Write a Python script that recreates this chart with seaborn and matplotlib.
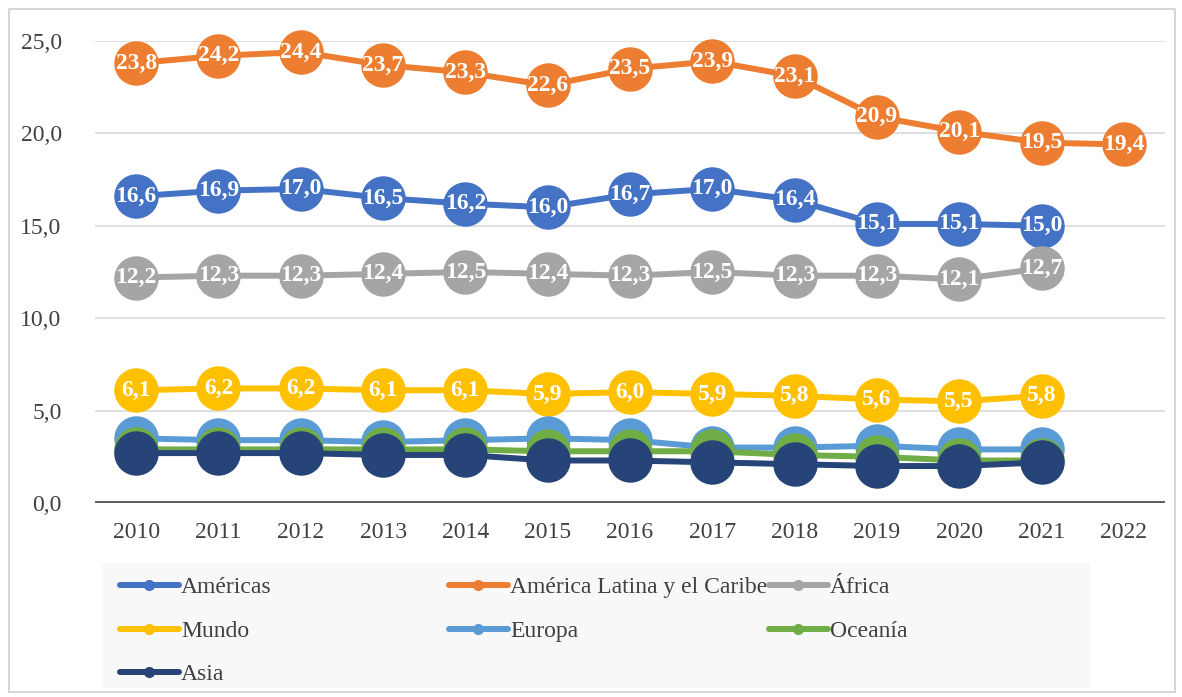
import pandas as pd
import numpy as np
import seaborn as sns
import matplotlib.pyplot as plt
from matplotlib.lines import Line2D
from matplotlib.patches import Rectangle

# Data
years = [2010, 2011, 2012, 2013, 2014, 2015, 2016, 2017, 2018, 2019, 2020, 2021, 2022]
americas = [16.6, 16.9, 17.0, 16.5, 16.2, 16.0, 16.7, 17.0, 16.4, 15.1, 15.1, 15.0, np.nan]
latam = [23.8, 24.2, 24.4, 23.7, 23.3, 22.6, 23.5, 23.9, 23.1, 20.9, 20.1, 19.5, 19.4]
africa = [12.2, 12.3, 12.3, 12.4, 12.5, 12.4, 12.3, 12.5, 12.3, 12.3, 12.1, 12.7, np.nan]
mundo = [6.1, 6.2, 6.2, 6.1, 6.1, 5.9, 6.0, 5.9, 5.8, 5.6, 5.5, 5.8, np.nan]
europa = [3.5, 3.4, 3.4, 3.3, 3.4, 3.5, 3.4, 3.0, 3.0, 3.1, 2.9, 2.9, np.nan]
oceania = [2.9, 2.9, 2.9, 2.9, 2.9, 2.8, 2.8, 2.8, 2.6, 2.5, 2.3, 2.3, np.nan]
asia = [2.7, 2.7, 2.7, 2.6, 2.6, 2.3, 2.3, 2.2, 2.1, 2.0, 2.0, 2.2, np.nan]

regions = ["Américas", "América Latina y el Caribe", "África", "Mundo",
           "Europa", "Oceanía", "Asia"]
series = [americas, latam, africa, mundo, europa, oceania, asia]
colors = ["#4472C4", "#ED7D31", "#A5A5A5", "#FFC000", "#5B9BD5", "#70AD47", "#264478"]
labelled = ["Américas", "América Latina y el Caribe", "África", "Mundo"]

df = pd.DataFrame({
    "year": np.tile(years, len(regions)),
    "region": np.repeat(regions, len(years)),
    "value": np.concatenate(series),
})

sns.set_style("white")
plt.rcParams["font.family"] = ["Liberation Serif", "DejaVu Serif"]

fig = plt.figure(figsize=(11.82, 6.97), dpi=100)
ax = fig.add_axes([95 / 1182, 1 - 503 / 697, 1070 / 1182, 462 / 697])

sns.lineplot(data=df.dropna(), x="year", y="value", hue="region", hue_order=regions,
             palette=colors, marker="o", markersize=32, markeredgewidth=0,
             linewidth=4.3, legend=False, ax=ax, clip_on=False)

# data labels
for name, vals in zip(regions, series):
    if name not in labelled:
        continue
    for yr, v in zip(years, vals):
        if np.isnan(v):
            continue
        ax.text(yr, v, f"{v:.1f}".replace(".", ","), color="white", fontsize=17,
                fontweight="bold", ha="center", va="center", zorder=10)

ax.set_xlim(2009.5, 2022.5)
ax.set_ylim(0, 25)
ax.set_yticks([0, 5, 10, 15, 20, 25])
ax.set_yticklabels([f"{t:.1f}".replace(".", ",") for t in [0, 5, 10, 15, 20, 25]])
ax.set_xticks(years)
ax.set_xticklabels([str(y) for y in years])
ax.tick_params(axis="both", length=0, labelsize=17, labelcolor="#404040")
ax.tick_params(axis="y", pad=24)
ax.tick_params(axis="x", pad=14)
ax.set_xlabel("")
ax.set_ylabel("")
for s in ax.spines.values():
    s.set_visible(False)
for t in [5, 10, 15, 20, 25]:
    ax.axhline(t, color="#D9D9D9", lw=1.2, zorder=0)
ax.axhline(0, color="#595959", lw=3.5, zorder=1)

# legend background and legends (three columns like Excel)
fig.patches.append(Rectangle((103 / 1182, 1 - 688 / 697), 987 / 1182, 125 / 697,
                             transform=fig.transFigure, facecolor="#F8F8F8",
                             edgecolor="none", zorder=0))
fig.patches.append(Rectangle((9 / 1182, 1 - 692 / 697), 1166 / 1182, 683 / 697,
                             transform=fig.transFigure, facecolor="none",
                             edgecolor="#D0D0D0", lw=1.2))

cmap = dict(zip(regions, colors))
columns = [(["Américas", "Mundo", "Asia"], 108),
           (["América Latina y el Caribe", "Europa"], 437),
           (["África", "Oceanía"], 757)]
for names, xpx in columns:
    handles = [Line2D([0], [0], color=cmap[n], lw=4.3, marker="o", markersize=7)
               for n in names]
    fig.legend(handles, names, loc="upper left",
               bbox_to_anchor=(xpx / 1182, 1 - 565 / 697), frameon=False,
               fontsize=17, handlelength=2.5, handletextpad=0.1,
               labelspacing=0.93, labelcolor="#404040", borderpad=0)

fig.savefig("out.png", dpi=100)
